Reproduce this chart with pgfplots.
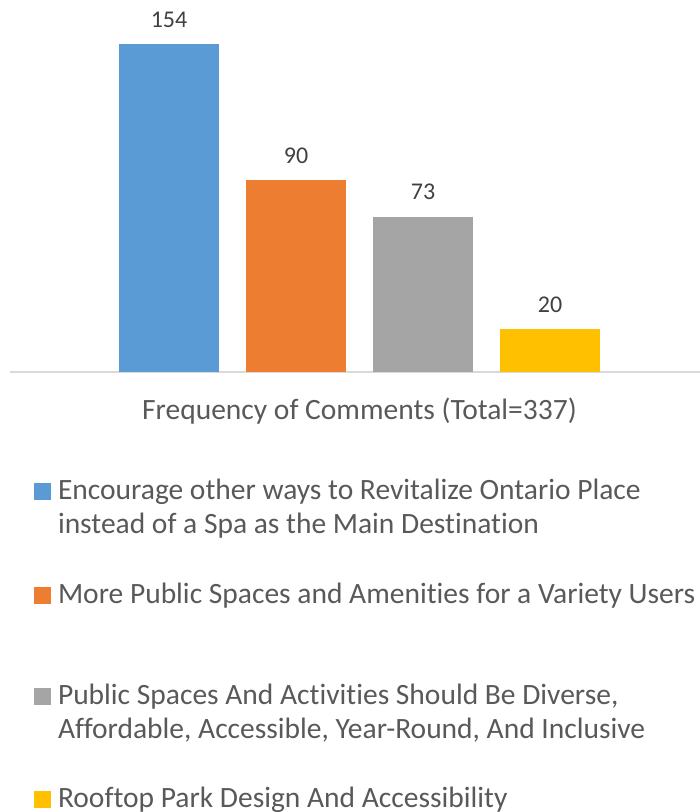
\documentclass[border=0pt]{standalone}
\usepackage{pgfplots}
\pgfplotsset{compat=1.18}
\usepackage{fontspec}
\setmainfont{Carlito}[Ligatures={NoCommon}]
\definecolor{cblue}{HTML}{5B9BD5}
\definecolor{corange}{HTML}{ED7D31}
\definecolor{cgray}{HTML}{A5A5A5}
\definecolor{cyellow}{HTML}{FFC000}
\definecolor{axisgray}{HTML}{D9D9D9}
\definecolor{txt}{HTML}{595959}
\definecolor{lbl}{HTML}{404040}
\pgfplotsset{limg/.style={legend image code/.code={\fill[##1] (0bp,-1bp) rectangle (17bp,16bp); \path[draw=none,fill=none] (0bp,0bp) rectangle (24bp,-#1);}}}
\begin{document}
\begin{tikzpicture}
\path[use as bounding box] (0bp,0bp) rectangle (700bp,-812bp);
\begin{axis}[
  at={(10bp,-372bp)}, anchor=south west,
  scale only axis, width=690bp, height=372bp,
  xmin=10, xmax=700, ymin=0, ymax=174.66,
  clip=false,
  axis x line*=bottom, axis y line=none,
  x axis line style={-, draw=axisgray, line width=2bp},
  xtick=\empty, ytick=\empty,
  /pgf/number format/assume math mode=true,
  xlabel={Frequency of Comments (Total=337)},
  xlabel style={at={(axis description cs:0.5065,-0.12634)}, anchor=base, inner sep=0pt, text=txt, font=\fontsize{29.5bp}{34bp}\selectfont},
  nodes near coords,
  nodes near coords style={anchor=base, yshift=17bp, inner sep=0pt, text=lbl, font=\fontsize{24bp}{28bp}\selectfont},
  legend style={at={(axis description cs:0.034783,-0.27742)}, anchor=north west,
    draw=none, fill=none, inner sep=0pt, outer sep=0pt, row sep=0pt, column sep=0pt,
    nodes={inner sep=0pt, outer sep=0pt, text=txt},
    cells={anchor=base west},
    font=\fontsize{29.5bp}{34bp}\selectfont},
]
\addplot[ybar, bar width=100bp, bar shift=0pt, fill=cblue, draw=none, limg=80.2bp] coordinates {(169,154)};
\addlegendentry{\parbox[t]{660bp}{\strut Encourage other ways to Revitalize Ontario Place\newline instead of a Spa as the Main Destination}}
\addplot[ybar, bar width=100bp, bar shift=0pt, fill=corange, draw=none, limg=77.2bp] coordinates {(296,90)};
\addlegendentry{\parbox[t]{660bp}{\strut More Public Spaces and Amenities for a Variety Users}}
\addplot[ybar, bar width=100bp, bar shift=0pt, fill=cgray, draw=none, limg=79.2bp] coordinates {(423,73)};
\addlegendentry{\parbox[t]{660bp}{\strut Public Spaces And Activities Should Be Diverse,\newline Affordable, Accessible, Year-Round, And Inclusive}}
\addplot[ybar, bar width=100bp, bar shift=0pt, fill=cyellow, draw=none, limg=0bp] coordinates {(550,20)};
\addlegendentry{\parbox[t]{660bp}{\strut Rooftop Park Design And Accessibility}}
\end{axis}
\end{tikzpicture}
\end{document}
